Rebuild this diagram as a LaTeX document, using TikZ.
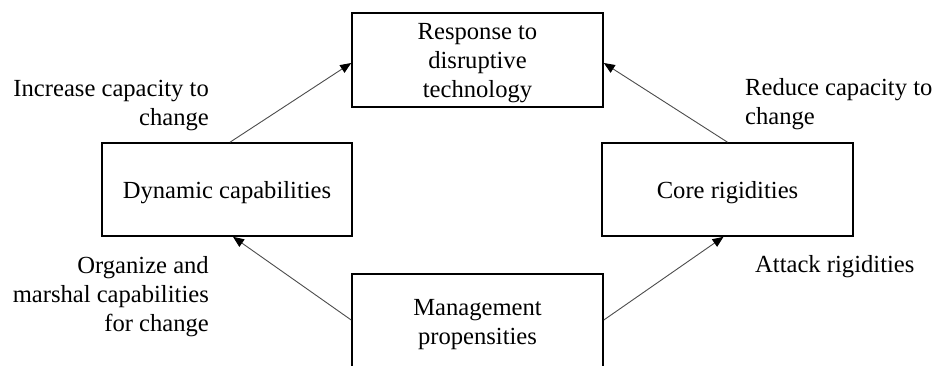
\documentclass[tikz,border=0pt]{standalone}
\usepackage{fontspec}
\setmainfont{Liberation Serif}
\usetikzlibrary{arrows.meta,calc}
\begin{document}
\begin{tikzpicture}[x=1pt,y=-1pt,
  box/.style={draw=black,line width=1.6pt,inner sep=0pt,align=center,
    font=\fontsize{24.6}{29}\selectfont},
  lbl/.style={inner sep=0pt,font=\fontsize{24.6}{29}\selectfont},
  link/.style={draw=black!70,line width=0.9pt,
    -{Triangle[length=11pt,width=9pt,color=black]}}]
  % page frame; the lower box runs off the bottom edge
  \clip (0,0) rectangle (936,365);

  % boxes
  \node[box,minimum width=251pt,minimum height=94pt,text depth=0pt] (resp) at (477.5,60)
    {Response to\\disruptive\\technology};
  \node[box,minimum width=250pt,minimum height=93pt,text depth=0pt] (dyn) at (227,189.5)
    {Dynamic capabilities};
  \node[box,minimum width=251pt,minimum height=93pt,text depth=0pt] (core) at (727.5,189.5)
    {Core rigidities};
  \node[box,minimum width=251pt,minimum height=101pt] (mgmt) at (477.5,324.6)
    {Management\\propensities};

  % connectors
  \draw[link] ($(dyn.north)+(3,0)$) -- ($(resp.west)+(0,3)$);
  \draw[link] (core.north) -- ($(resp.east)+(0,3)$);
  \draw[link] ($(mgmt.west)+(0,-4.6)$) -- ($(dyn.south)+(6,0)$);
  \draw[link] ($(mgmt.east)+(0,-4.6)$) -- ($(core.south)+(-4,0)$);

  % edge labels
  \node[lbl,anchor=north east,align=right] (inc) at (209,79.8)
    {Increase capacity to\\change};
  \node[lbl,anchor=north west,align=left] (red) at (745,78.3)
    {Reduce capacity to\\change};
  \node[lbl,anchor=north east,align=right] (org) at (209,256)
    {Organize and\\marshal capabilities\\for change};
  \node[lbl,anchor=base west] (att) at (755,272) {Attack rigidities};
\end{tikzpicture}
\end{document}
